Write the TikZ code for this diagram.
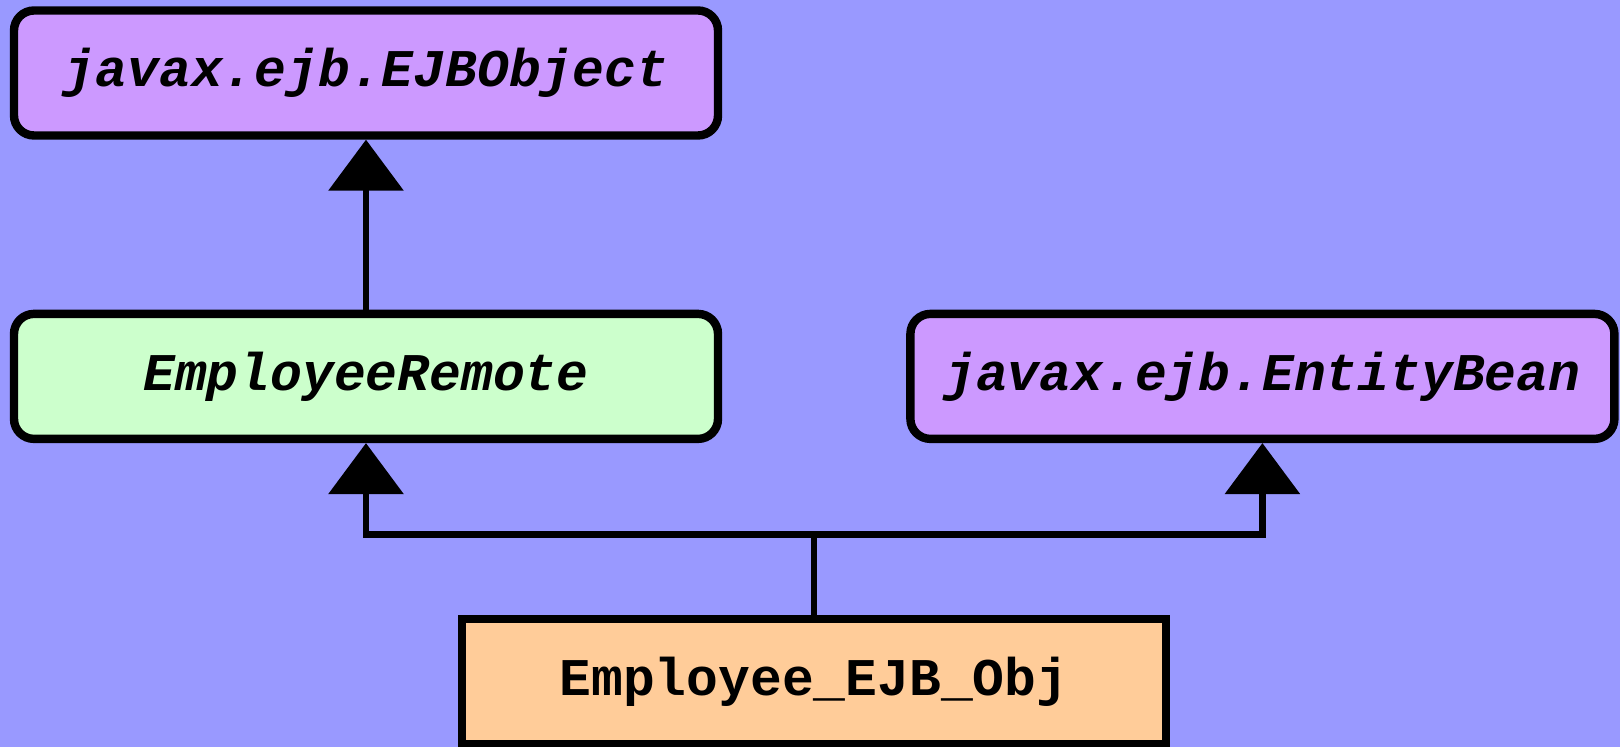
\documentclass[tikz,border=0pt]{standalone}
\usepackage{fontspec}
\setmonofont{Liberation Mono}
\usepackage{tikz}
\usepackage{xcolor}
\usetikzlibrary{arrows.meta, positioning}
\definecolor{cBack}{RGB}{153,153,255}
\definecolor{cPurple}{RGB}{204,153,255}
\definecolor{cGreen}{RGB}{204,255,204}
\definecolor{cOrange}{RGB}{255,204,153}
\tikzset{
	iface/.style  ={rectangle, rounded corners=10pt, draw=black, line width=4.2pt, minimum width=352pt, minimum height=62.5pt, align=center, font=\fontsize{26.5}{30}\selectfont\ttfamily\bfseries\itshape},
	klass/.style  ={rectangle, draw=black, line width=4.2pt, minimum width=352pt, minimum height=62.5pt, align=center, font=\fontsize{26.5}{30}\selectfont\ttfamily\bfseries},
	inherit/.style={-{Triangle[length=25.5pt, width=37pt]}, line width=3.3pt},
}
\begin{document}
\begin{tikzpicture}[node distance=85pt]
	\fill[cBack] (0,0) rectangle (810pt,-373.5pt);
	\useasboundingbox (0,0) rectangle (810pt,-373.5pt);
	\node[iface, fill=cPurple] (ejbobj) at (183pt,-36.5pt) {javax.ejb.EJBObject};
	\node[iface, fill=cGreen, below=of ejbobj] (remote) {EmployeeRemote};
	\node[iface, fill=cPurple, right=92pt of remote] (entity) {javax.ejb.EntityBean};
	\node[klass, fill=cOrange] (impl) at (407pt,-340.75pt) {Employee\_EJB\_Obj};
	\draw[inherit] (remote) -- (ejbobj);
	\draw[inherit] (impl.north) -- ++(0,40pt) -| (remote.south);
	\draw[inherit] (impl.north) -- ++(0,40pt) -| (entity.south);
\end{tikzpicture}
\end{document}
